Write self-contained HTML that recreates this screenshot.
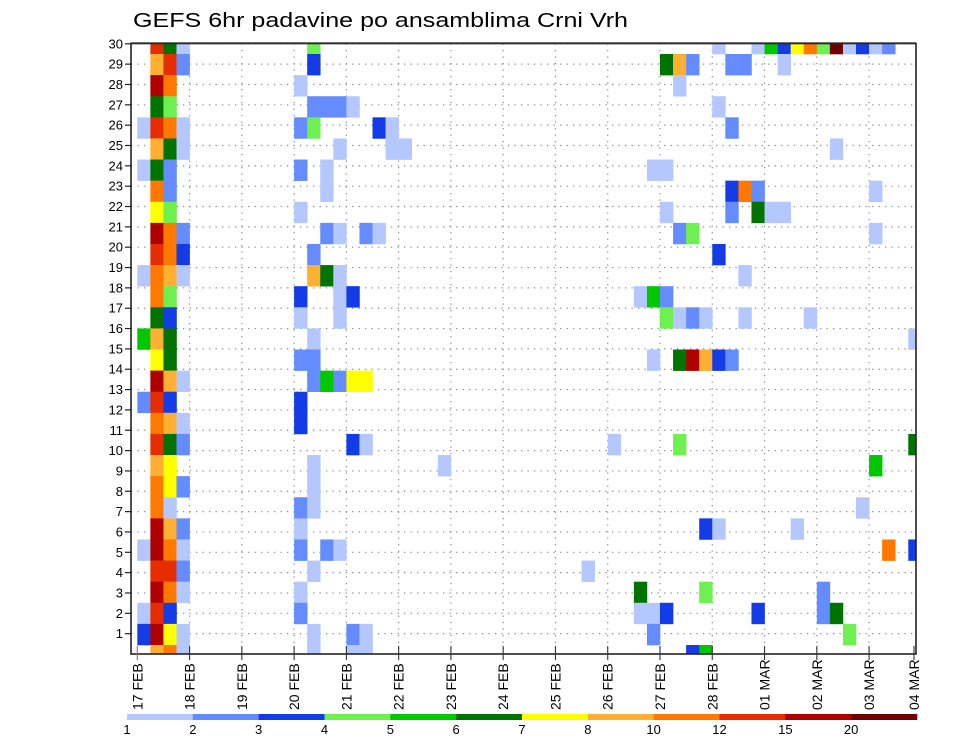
<!DOCTYPE html>
<html>
<head>
<meta charset="utf-8">
<style>
html,body{margin:0;padding:0;background:#fff;}
svg{display:block;font-family:"Liberation Sans",sans-serif;}
</style>
</head>
<body>
<svg id="chart" width="960" height="742" viewBox="0 0 960 742" xmlns="http://www.w3.org/2000/svg">
  <text x="133" y="27" font-size="20" textLength="495" lengthAdjust="spacingAndGlyphs" fill="#000">GEFS 6hr padavine po ansamblima Crni Vrh</text>
  <defs><clipPath id="plotClip"><rect x="131" y="43.5" width="785" height="610.5"/></clipPath></defs>
  <g id="grid"></g>
  <g id="cells" clip-path="url(#plotClip)"></g>
  <g id="axes"></g>
  <g id="legend"></g>
</svg>
<script>
// level colours (legend order) and boundary labels
const levelColors = ["#b4c8ff","#648cff","#143ce6","#6ef050","#00c800","#007300","#ffff00","#ffaf32","#ff7800","#e62d00","#af0000","#6e0000"];
const levelLabels = ["1","2","3","4","5","6","7","8","10","12","15","20"];
const dateLabels = ["17 FEB","18 FEB","19 FEB","20 FEB","21 FEB","22 FEB","23 FEB","24 FEB","25 FEB","26 FEB","27 FEB","28 FEB","01 MAR","02 MAR","03 MAR","04 MAR"];
const memberLabels = [1,2,3,4,5,6,7,8,9,10,11,12,13,14,15,16,17,18,19,20,21,22,23,24,25,26,27,28,29,30];
// rows from top to bottom; each entry "step:level" (step = 6h index from 17 FEB 00Z, level 1..c)
const memberRows = [
"1:a 2:6 3:1 13:4 44:1 47:1 48:5 49:3 50:7 51:9 52:4 53:c 54:1 55:3 56:1 57:2",
"1:8 2:a 3:2 13:3 40:6 41:8 42:2 45:2 46:2 49:1",
"1:b 2:9 12:1 41:1",
"1:6 2:4 13:2 14:2 15:2 16:1 44:1",
"0:1 1:a 2:9 3:1 12:2 13:4 18:3 19:1 45:2",
"1:8 2:6 3:1 15:1 19:1 20:1 53:1",
"0:1 1:6 2:2 12:2 14:1 39:1 40:1",
"1:9 2:2 14:1 45:3 46:9 47:2 56:1",
"1:7 2:4 12:1 40:1 45:2 47:6 48:1 49:1",
"1:b 2:9 3:2 14:2 15:1 17:2 18:1 41:2 42:4 56:1",
"1:a 2:9 3:3 13:2 44:3",
"0:1 1:9 2:8 3:1 13:8 14:6 15:1 46:1",
"1:9 2:4 12:3 15:1 16:3 38:1 39:5 40:2",
"1:6 2:3 12:1 15:1 40:4 41:1 42:2 43:1 46:1 51:1",
"0:5 1:8 2:6 13:1 59:1",
"1:7 2:6 12:2 13:2 39:1 41:6 42:b 43:8 44:3 45:2",
"1:b 2:8 3:1 13:2 14:5 15:2 16:7 17:7",
"0:2 1:a 2:3 12:3",
"1:9 2:8 3:1 12:3",
"1:a 2:6 3:2 16:3 17:1 36:1 41:4 59:6",
"1:8 2:7 13:1 23:1 56:5",
"1:9 2:7 3:2 13:1",
"1:9 2:1 12:2 13:1 55:1",
"1:b 2:8 3:2 12:1 43:3 44:1 50:1",
"0:1 1:b 2:9 3:1 12:2 14:2 15:1 57:9 59:3",
"1:a 2:a 3:2 13:1 34:1",
"1:b 2:9 3:1 12:1 38:6 43:4 52:2",
"0:1 1:a 2:3 12:2 38:1 39:1 40:3 47:3 52:2 53:6",
"0:3 1:b 2:7 3:1 13:1 16:2 17:1 39:2 54:4",
"1:8 2:9 3:1 13:1 16:1 17:1 42:3 43:5"
];

const NS = "http://www.w3.org/2000/svg";
const L = 131, R = 916, T = 43.5, B = 654;
const X0 = 137.3, DAYW = 52.27, STEPW = DAYW / 4;
const ROWH = 21.107, ROW1TOP = 54;
function xStep(s){ return X0 + s * STEPW; }
function xDay(d){ return X0 + d * DAYW; }
function rowTop(t){ return t === 0 ? 44 : ROW1TOP + (t - 1) * ROWH; }
function rowBottom(t){ return Math.min(B, ROW1TOP + t * ROWH); }
function yMember(k){ return B - k * 20.34; }
function levelIndex(ch){ return parseInt(ch, 16) - 1; }
function mk(tag, attrs, parent){
  const e = document.createElementNS(NS, tag);
  for (const k in attrs) e.setAttribute(k, attrs[k]);
  parent.appendChild(e); return e;
}

const grid = document.getElementById('grid');
const cells = document.getElementById('cells');
const axes = document.getElementById('axes');
const legend = document.getElementById('legend');

// grid lines
memberLabels.forEach(k => {
  const ln = mk('line', {x1:L, x2:R, y1:yMember(k), y2:yMember(k), stroke:'#8c8c8c', 'stroke-width':1.2, 'stroke-dasharray':'1.3 5.2'}, grid);
  
  
});
dateLabels.forEach((d, i) => {
  if (i === 0 || xDay(i) >= R) return;
  const ln = mk('line', {x1:xDay(i), x2:xDay(i), y1:T, y2:B, stroke:'#8c8c8c', 'stroke-width':1.2, 'stroke-dasharray':'1.3 5.2'}, grid);
  
  
});

// cells
memberRows.forEach((row, t) => {
  row.trim().split(/\s+/).forEach(tok => {
    const parts = tok.split(':');
    const s = parseInt(parts[0], 10);
    const lv = levelIndex(parts[1]);
    const y0 = rowTop(t), y1 = rowBottom(t);
    const r = mk('rect', {x:xStep(s), y:y0, width:STEPW + 0.3, height:y1 - y0 + 0.3, fill:levelColors[lv]}, cells);
    
    
  });
});

// frame
const frame = mk('rect', {x:L, y:T, width:R - L, height:B - T, fill:'none', stroke:'#222', 'stroke-width':1.6}, axes);


mk('line', {x1:L, x2:R, y1:T - 0.8, y2:T - 0.8, stroke:'#444', 'stroke-width':1}, axes);

// y ticks + labels
memberLabels.forEach(k => {
  const y = yMember(k);
  mk('line', {x1:125, x2:L, y1:y, y2:y, stroke:'#222', 'stroke-width':1.2}, axes);
  const tx = mk('text', {x:123, y:y + 4.5, 'font-size':13, 'text-anchor':'end', fill:'#000'}, axes);
  tx.textContent = k;
  
  
});

// x ticks + labels
dateLabels.forEach((d, i) => {
  const x = Math.min(xDay(i), R - 2);
  mk('line', {x1:x, x2:x, y1:B - 8, y2:B + 6, stroke: i === 0 ? '#c06060' : '#333', 'stroke-width':1.1}, axes);
  const tx = mk('text', {x:0, y:0, 'font-size':14, fill:'#000', transform:'translate(' + (x + 5) + ',710) rotate(-90)'}, axes);
  tx.textContent = d;
  
  
});

// legend
const LX0 = 127, LX1 = 917, segW = (LX1 - LX0) / levelColors.length;
levelColors.forEach((c, i) => {
  const r = mk('rect', {x:LX0 + i * segW, y:714, width:segW + 0.3, height:6, fill:c}, legend);
  
  
});
levelLabels.forEach((lab, i) => {
  const tx = mk('text', {x:LX0 + i * segW, y:734, 'font-size':13, 'text-anchor':'middle', fill:'#000'}, legend);
  tx.textContent = lab;
  
  
});
</script>
</body>
</html>
